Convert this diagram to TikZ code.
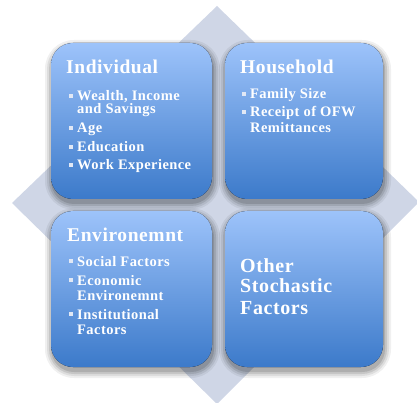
\documentclass[tikz,border=0pt]{standalone}
\usepackage{fontspec}
\setmainfont{Liberation Serif}
\newfontfamily\panelfont[LetterSpace=3]{Liberation Serif}
\definecolor{diamondfill}{RGB}{207,214,230}
\definecolor{panelTop}{RGB}{157,195,250}
\definecolor{panelBot}{RGB}{60,122,202}
\definecolor{bulletcol}{RGB}{225,232,245}
% soft shadow under a rounded panel: x1 y1 x2 y2
\newcommand\panelshadow[4]{%
  \foreach \k/\o in {7/0.06,5/0.08,3/0.10,1/0.12}{%
    \pgfmathsetmacro\rc{22+\k}%
    \fill[black,opacity=\o,rounded corners=\rc pt]
      ({#1-\k+1},{#2-\k+4}) rectangle ({#3+\k+1},{#4+\k+4});
  }%
}
\begin{document}
\begin{tikzpicture}[x=1pt,y=-1pt,
  panel/.style={rounded corners=22pt,top color=panelTop,bottom color=panelBot,draw=none},
  title/.style={anchor=base west,inner sep=0pt,text=white,font=\panelfont\bfseries\fontsize{19.5}{22}\selectfont},
  bigtitle/.style={anchor=base west,inner sep=0pt,text=white,font=\panelfont\bfseries\fontsize{20}{22}\selectfont},
  entry/.style={anchor=base west,inner sep=0pt,text=white,font=\panelfont\bfseries\fontsize{14.5}{16}\selectfont},
  bulletmark/.style={fill=bulletcol}]
\useasboundingbox (0,0) rectangle (417,403);
% backdrop diamond
\fill[diamondfill] (217,6) -- (419,202) -- (217,404) -- (12,203) -- cycle;
% shadows
\panelshadow{51}{43}{212}{199}
\panelshadow{225}{43}{383}{199}
\panelshadow{51}{211}{212}{367}
\panelshadow{225}{211}{383}{367}
% panels
\fill[panel] (51,43) rectangle (212,199);
\fill[panel] (225,43) rectangle (383,199);
\fill[panel] (51,211) rectangle (212,367);
\fill[panel] (225,211) rectangle (383,367);
% Individual
\node[title] (ind) at (66,74) {Individual};
\node[entry] (ind1) at (77,101) {Wealth, Income};
\node[entry] (ind1b) at (77,114) {and Savings};
\node[entry] (ind2) at (77,133) {Age};
\node[entry] (ind3) at (77,152) {Education};
\node[entry] (ind4) at (77,170) {Work Experience};
% Household
\node[title] (hh) at (240,74) {Household};
\node[entry] (hh1) at (250,99) {Family Size};
\node[entry] (hh2) at (250,117) {Receipt of OFW};
\node[entry] (hh2b) at (250,133) {Remittances};
% Environment
\node[title] (env) at (67,241) {Environemnt};
\node[entry] (env1) at (77,266) {Social Factors};
\node[entry] (env2) at (77,285) {Economic};
\node[entry] (env2b) at (77,300) {Environemnt};
\node[entry] (env3) at (77,319) {Institutional};
\node[entry] (env3b) at (77,334) {Factors};
% Other stochastic factors
\node[bigtitle] (oth1) at (240,272) {Other};
\node[bigtitle] (oth2) at (240,292) {Stochastic};
\node[bigtitle] (oth3) at (240,314) {Factors};
% bullet squares
\foreach \n in {ind1,ind2,ind3,ind4,hh1,hh2,env1,env2,env3}{
  \fill[bulletmark] ([xshift=-8pt,yshift=3pt]\n.base west) rectangle ++(4,-4);
}
\end{tikzpicture}
\end{document}
